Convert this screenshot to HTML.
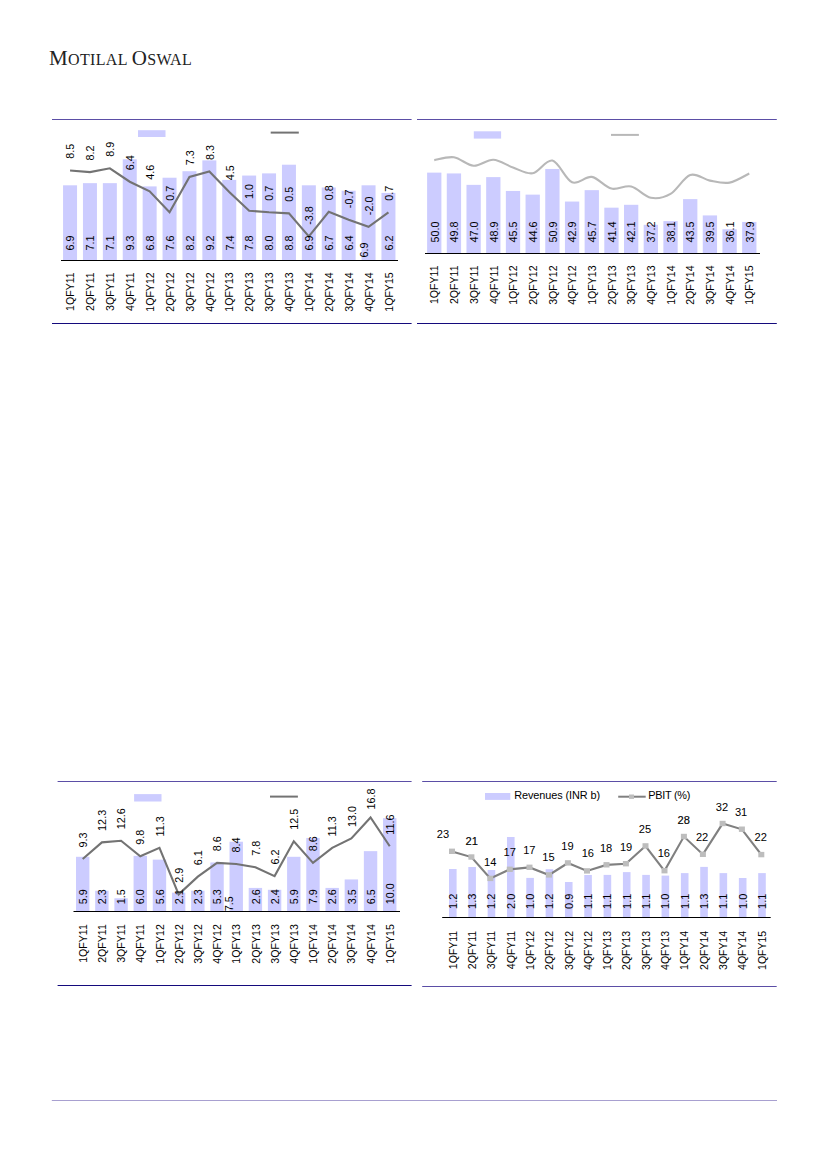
<!DOCTYPE html>
<html><head><meta charset="utf-8"><style>
html,body{margin:0;padding:0;background:#fff;}
body{width:827px;height:1169px;position:relative;overflow:hidden;font-family:"Liberation Sans", sans-serif;}
.logo{position:absolute;left:49px;top:48px;font-family:"Liberation Serif",serif;color:#222;white-space:nowrap;font-size:16px;letter-spacing:0.35px;line-height:1;}
.logo .c{font-size:21px;}
svg{position:absolute;left:0;top:0;}
svg text{font-family:"Liberation Sans", sans-serif;}
</style></head><body>
<div class="logo"><span class="c">M</span>OTILAL <span class="c">O</span>SWAL</div>
<svg width="827" height="1169" viewBox="0 0 827 1169">
<line x1="52" y1="119.5" x2="411.6" y2="119.5" stroke="#5b4ea6" stroke-width="1.0"/>
<line x1="52" y1="323.5" x2="411.6" y2="323.5" stroke="#140a7c" stroke-width="1.1"/>
<rect x="138" y="130.2" width="27.5" height="6.8" fill="#ccccff"/>
<line x1="270.7" y1="132.6" x2="298.8" y2="132.6" stroke="#737373" stroke-width="2"/>
<rect x="63.05" y="185.30" width="14" height="75.20" fill="#ccccff"/>
<rect x="82.95" y="183.14" width="14" height="77.36" fill="#ccccff"/>
<rect x="102.85" y="183.14" width="14" height="77.36" fill="#ccccff"/>
<rect x="122.75" y="159.29" width="14" height="101.21" fill="#ccccff"/>
<rect x="142.65" y="186.39" width="14" height="74.11" fill="#ccccff"/>
<rect x="162.55" y="177.72" width="14" height="82.78" fill="#ccccff"/>
<rect x="182.45" y="171.21" width="14" height="89.29" fill="#ccccff"/>
<rect x="202.35" y="160.37" width="14" height="100.13" fill="#ccccff"/>
<rect x="222.25" y="179.88" width="14" height="80.62" fill="#ccccff"/>
<rect x="242.15" y="175.55" width="14" height="84.95" fill="#ccccff"/>
<rect x="262.05" y="173.38" width="14" height="87.12" fill="#ccccff"/>
<rect x="281.95" y="164.71" width="14" height="95.79" fill="#ccccff"/>
<rect x="301.85" y="185.30" width="14" height="75.20" fill="#ccccff"/>
<rect x="321.75" y="187.47" width="14" height="73.03" fill="#ccccff"/>
<rect x="341.65" y="190.72" width="14" height="69.78" fill="#ccccff"/>
<rect x="361.55" y="185.30" width="14" height="75.20" fill="#ccccff"/>
<rect x="381.45" y="192.89" width="14" height="67.61" fill="#ccccff"/>
<line x1="61" y1="260.5" x2="398" y2="260.5" stroke="#000" stroke-width="1.0"/>
<polyline fill="none" stroke="#737373" stroke-width="2.1" points="70.05,170.47 89.95,172.08 109.85,168.32 129.75,181.73 149.65,191.39 169.55,212.31 189.45,176.90 209.35,171.54 229.25,191.92 249.15,210.70 269.05,212.31 288.95,213.38 308.85,236.44 328.75,211.77 348.65,219.81 368.55,226.79 388.45,212.31"/>
<text transform="translate(74.32,250.60) rotate(-90)" text-anchor="start" font-size="10.8" fill="#000">6.9</text>
<text transform="translate(74.32,158.87) rotate(-90)" text-anchor="start" font-size="10.8" fill="#000">8.5</text>
<text transform="translate(74.24,272.30) rotate(-90)" text-anchor="end" font-size="10.6" fill="#000">1QFY11</text>
<text transform="translate(94.22,250.60) rotate(-90)" text-anchor="start" font-size="10.8" fill="#000">7.1</text>
<text transform="translate(94.22,160.48) rotate(-90)" text-anchor="start" font-size="10.8" fill="#000">8.2</text>
<text transform="translate(94.14,272.30) rotate(-90)" text-anchor="end" font-size="10.6" fill="#000">2QFY11</text>
<text transform="translate(114.12,250.60) rotate(-90)" text-anchor="start" font-size="10.8" fill="#000">7.1</text>
<text transform="translate(114.12,156.72) rotate(-90)" text-anchor="start" font-size="10.8" fill="#000">8.9</text>
<text transform="translate(114.04,272.30) rotate(-90)" text-anchor="end" font-size="10.6" fill="#000">3QFY11</text>
<text transform="translate(134.02,250.60) rotate(-90)" text-anchor="start" font-size="10.8" fill="#000">9.3</text>
<text transform="translate(134.02,170.13) rotate(-90)" text-anchor="start" font-size="10.8" fill="#000">6.4</text>
<text transform="translate(133.94,272.30) rotate(-90)" text-anchor="end" font-size="10.6" fill="#000">4QFY11</text>
<text transform="translate(153.92,250.60) rotate(-90)" text-anchor="start" font-size="10.8" fill="#000">6.8</text>
<text transform="translate(153.92,179.79) rotate(-90)" text-anchor="start" font-size="10.8" fill="#000">4.6</text>
<text transform="translate(153.84,272.30) rotate(-90)" text-anchor="end" font-size="10.6" fill="#000">1QFY12</text>
<text transform="translate(173.82,250.60) rotate(-90)" text-anchor="start" font-size="10.8" fill="#000">7.6</text>
<text transform="translate(173.82,200.71) rotate(-90)" text-anchor="start" font-size="10.8" fill="#000">0.7</text>
<text transform="translate(173.74,272.30) rotate(-90)" text-anchor="end" font-size="10.6" fill="#000">2QFY12</text>
<text transform="translate(193.72,250.60) rotate(-90)" text-anchor="start" font-size="10.8" fill="#000">8.2</text>
<text transform="translate(193.72,165.30) rotate(-90)" text-anchor="start" font-size="10.8" fill="#000">7.3</text>
<text transform="translate(193.64,272.30) rotate(-90)" text-anchor="end" font-size="10.6" fill="#000">3QFY12</text>
<text transform="translate(213.62,250.60) rotate(-90)" text-anchor="start" font-size="10.8" fill="#000">9.2</text>
<text transform="translate(213.62,159.94) rotate(-90)" text-anchor="start" font-size="10.8" fill="#000">8.3</text>
<text transform="translate(213.54,272.30) rotate(-90)" text-anchor="end" font-size="10.6" fill="#000">4QFY12</text>
<text transform="translate(233.52,250.60) rotate(-90)" text-anchor="start" font-size="10.8" fill="#000">7.4</text>
<text transform="translate(233.52,180.32) rotate(-90)" text-anchor="start" font-size="10.8" fill="#000">4.5</text>
<text transform="translate(233.44,272.30) rotate(-90)" text-anchor="end" font-size="10.6" fill="#000">1QFY13</text>
<text transform="translate(253.42,250.60) rotate(-90)" text-anchor="start" font-size="10.8" fill="#000">7.8</text>
<text transform="translate(253.42,199.10) rotate(-90)" text-anchor="start" font-size="10.8" fill="#000">1.0</text>
<text transform="translate(253.34,272.30) rotate(-90)" text-anchor="end" font-size="10.6" fill="#000">2QFY13</text>
<text transform="translate(273.32,250.60) rotate(-90)" text-anchor="start" font-size="10.8" fill="#000">8.0</text>
<text transform="translate(273.32,200.71) rotate(-90)" text-anchor="start" font-size="10.8" fill="#000">0.7</text>
<text transform="translate(273.24,272.30) rotate(-90)" text-anchor="end" font-size="10.6" fill="#000">3QFY13</text>
<text transform="translate(293.22,250.60) rotate(-90)" text-anchor="start" font-size="10.8" fill="#000">8.8</text>
<text transform="translate(293.22,201.78) rotate(-90)" text-anchor="start" font-size="10.8" fill="#000">0.5</text>
<text transform="translate(293.14,272.30) rotate(-90)" text-anchor="end" font-size="10.6" fill="#000">4QFY13</text>
<text transform="translate(313.12,250.60) rotate(-90)" text-anchor="start" font-size="10.8" fill="#000">6.9</text>
<text transform="translate(313.12,224.84) rotate(-90)" text-anchor="start" font-size="10.8" fill="#000">-3.8</text>
<text transform="translate(313.04,272.30) rotate(-90)" text-anchor="end" font-size="10.6" fill="#000">1QFY14</text>
<text transform="translate(333.02,250.60) rotate(-90)" text-anchor="start" font-size="10.8" fill="#000">6.7</text>
<text transform="translate(333.02,200.17) rotate(-90)" text-anchor="start" font-size="10.8" fill="#000">0.8</text>
<text transform="translate(332.94,272.30) rotate(-90)" text-anchor="end" font-size="10.6" fill="#000">2QFY14</text>
<text transform="translate(352.92,250.60) rotate(-90)" text-anchor="start" font-size="10.8" fill="#000">6.4</text>
<text transform="translate(352.92,208.21) rotate(-90)" text-anchor="start" font-size="10.8" fill="#000">-0.7</text>
<text transform="translate(352.84,272.30) rotate(-90)" text-anchor="end" font-size="10.6" fill="#000">3QFY14</text>
<text transform="translate(367.52,257.50) rotate(-90)" text-anchor="start" font-size="10.8" fill="#000">6.9</text>
<text transform="translate(372.82,215.19) rotate(-90)" text-anchor="start" font-size="10.8" fill="#000">-2.0</text>
<text transform="translate(372.74,272.30) rotate(-90)" text-anchor="end" font-size="10.6" fill="#000">4QFY14</text>
<text transform="translate(392.72,250.60) rotate(-90)" text-anchor="start" font-size="10.8" fill="#000">6.2</text>
<text transform="translate(392.72,200.71) rotate(-90)" text-anchor="start" font-size="10.8" fill="#000">0.7</text>
<text transform="translate(392.64,272.30) rotate(-90)" text-anchor="end" font-size="10.6" fill="#000">1QFY15</text>
<line x1="417" y1="119.5" x2="776.8" y2="119.5" stroke="#5b4ea6" stroke-width="1.0"/>
<line x1="417" y1="323.5" x2="776.8" y2="323.5" stroke="#140a7c" stroke-width="1.1"/>
<rect x="473.8" y="131.3" width="27.3" height="7.3" fill="#ccccff"/>
<line x1="611" y1="134.9" x2="638.9" y2="134.9" stroke="#b8b8b8" stroke-width="2"/>
<rect x="427.10" y="172.63" width="14.3" height="80.87" fill="#ccccff"/>
<rect x="446.79" y="173.44" width="14.3" height="80.06" fill="#ccccff"/>
<rect x="466.48" y="184.85" width="14.3" height="68.65" fill="#ccccff"/>
<rect x="486.17" y="177.11" width="14.3" height="76.39" fill="#ccccff"/>
<rect x="505.86" y="190.96" width="14.3" height="62.54" fill="#ccccff"/>
<rect x="525.55" y="194.63" width="14.3" height="58.87" fill="#ccccff"/>
<rect x="545.24" y="168.96" width="14.3" height="84.54" fill="#ccccff"/>
<rect x="564.93" y="201.56" width="14.3" height="51.94" fill="#ccccff"/>
<rect x="584.62" y="190.15" width="14.3" height="63.35" fill="#ccccff"/>
<rect x="604.31" y="207.67" width="14.3" height="45.83" fill="#ccccff"/>
<rect x="624.00" y="204.81" width="14.3" height="48.69" fill="#ccccff"/>
<rect x="643.69" y="224.78" width="14.3" height="28.72" fill="#ccccff"/>
<rect x="663.38" y="221.11" width="14.3" height="32.39" fill="#ccccff"/>
<rect x="683.07" y="199.11" width="14.3" height="54.39" fill="#ccccff"/>
<rect x="702.76" y="215.41" width="14.3" height="38.09" fill="#ccccff"/>
<rect x="722.45" y="229.26" width="14.3" height="24.24" fill="#ccccff"/>
<rect x="742.14" y="221.93" width="14.3" height="31.57" fill="#ccccff"/>
<line x1="425" y1="253.5" x2="760" y2="253.5" stroke="#000" stroke-width="1.0"/>
<path fill="none" stroke="#b8b8b8" stroke-width="2.1" d="M434.25,160.10 C437.53,159.63 447.38,156.35 453.94,157.30 C460.50,158.25 467.07,165.38 473.63,165.80 C480.19,166.22 486.76,159.52 493.32,159.80 C499.88,160.08 506.45,165.27 513.01,167.50 C519.57,169.73 526.14,174.35 532.70,173.20 C539.26,172.05 545.83,159.08 552.39,160.60 C558.95,162.12 565.52,179.58 572.08,182.30 C578.64,185.02 585.21,175.85 591.77,176.90 C598.33,177.95 604.90,187.02 611.46,188.60 C618.02,190.18 624.59,184.87 631.15,186.40 C637.71,187.93 644.28,196.55 650.84,197.80 C657.40,199.05 663.97,197.70 670.53,193.90 C677.09,190.10 683.66,177.22 690.22,175.00 C696.78,172.78 703.35,179.33 709.91,180.60 C716.47,181.87 723.04,183.78 729.60,182.60 C736.16,181.42 746.01,175.02 749.29,173.50"/>
<text transform="translate(438.52,242.40) rotate(-90)" text-anchor="start" font-size="10.8" fill="#000">50.0</text>
<text transform="translate(438.44,265.40) rotate(-90)" text-anchor="end" font-size="10.6" fill="#000">1QFY11</text>
<text transform="translate(458.21,242.40) rotate(-90)" text-anchor="start" font-size="10.8" fill="#000">49.8</text>
<text transform="translate(458.13,265.40) rotate(-90)" text-anchor="end" font-size="10.6" fill="#000">2QFY11</text>
<text transform="translate(477.90,242.40) rotate(-90)" text-anchor="start" font-size="10.8" fill="#000">47.0</text>
<text transform="translate(477.82,265.40) rotate(-90)" text-anchor="end" font-size="10.6" fill="#000">3QFY11</text>
<text transform="translate(497.59,242.40) rotate(-90)" text-anchor="start" font-size="10.8" fill="#000">48.9</text>
<text transform="translate(497.51,265.40) rotate(-90)" text-anchor="end" font-size="10.6" fill="#000">4QFY11</text>
<text transform="translate(517.28,242.40) rotate(-90)" text-anchor="start" font-size="10.8" fill="#000">45.5</text>
<text transform="translate(517.20,265.40) rotate(-90)" text-anchor="end" font-size="10.6" fill="#000">1QFY12</text>
<text transform="translate(536.97,242.40) rotate(-90)" text-anchor="start" font-size="10.8" fill="#000">44.6</text>
<text transform="translate(536.89,265.40) rotate(-90)" text-anchor="end" font-size="10.6" fill="#000">2QFY12</text>
<text transform="translate(556.66,242.40) rotate(-90)" text-anchor="start" font-size="10.8" fill="#000">50.9</text>
<text transform="translate(556.58,265.40) rotate(-90)" text-anchor="end" font-size="10.6" fill="#000">3QFY12</text>
<text transform="translate(576.35,242.40) rotate(-90)" text-anchor="start" font-size="10.8" fill="#000">42.9</text>
<text transform="translate(576.27,265.40) rotate(-90)" text-anchor="end" font-size="10.6" fill="#000">4QFY12</text>
<text transform="translate(596.04,242.40) rotate(-90)" text-anchor="start" font-size="10.8" fill="#000">45.7</text>
<text transform="translate(595.96,265.40) rotate(-90)" text-anchor="end" font-size="10.6" fill="#000">1QFY13</text>
<text transform="translate(615.73,242.40) rotate(-90)" text-anchor="start" font-size="10.8" fill="#000">41.4</text>
<text transform="translate(615.65,265.40) rotate(-90)" text-anchor="end" font-size="10.6" fill="#000">2QFY13</text>
<text transform="translate(635.42,242.40) rotate(-90)" text-anchor="start" font-size="10.8" fill="#000">42.1</text>
<text transform="translate(635.34,265.40) rotate(-90)" text-anchor="end" font-size="10.6" fill="#000">3QFY13</text>
<text transform="translate(655.11,242.40) rotate(-90)" text-anchor="start" font-size="10.8" fill="#000">37.2</text>
<text transform="translate(655.03,265.40) rotate(-90)" text-anchor="end" font-size="10.6" fill="#000">4QFY13</text>
<text transform="translate(674.80,242.40) rotate(-90)" text-anchor="start" font-size="10.8" fill="#000">38.1</text>
<text transform="translate(674.72,265.40) rotate(-90)" text-anchor="end" font-size="10.6" fill="#000">1QFY14</text>
<text transform="translate(694.49,242.40) rotate(-90)" text-anchor="start" font-size="10.8" fill="#000">43.5</text>
<text transform="translate(694.41,265.40) rotate(-90)" text-anchor="end" font-size="10.6" fill="#000">2QFY14</text>
<text transform="translate(714.18,242.40) rotate(-90)" text-anchor="start" font-size="10.8" fill="#000">39.5</text>
<text transform="translate(714.10,265.40) rotate(-90)" text-anchor="end" font-size="10.6" fill="#000">3QFY14</text>
<text transform="translate(733.87,242.40) rotate(-90)" text-anchor="start" font-size="10.8" fill="#000">36.1</text>
<text transform="translate(733.79,265.40) rotate(-90)" text-anchor="end" font-size="10.6" fill="#000">4QFY14</text>
<text transform="translate(753.56,242.40) rotate(-90)" text-anchor="start" font-size="10.8" fill="#000">37.9</text>
<text transform="translate(753.48,265.40) rotate(-90)" text-anchor="end" font-size="10.6" fill="#000">1QFY15</text>
<line x1="57.6" y1="781.5" x2="411.6" y2="781.5" stroke="#5b4ea6" stroke-width="1.0"/>
<line x1="57.6" y1="985.5" x2="411.6" y2="985.5" stroke="#140a7c" stroke-width="1.1"/>
<rect x="134.1" y="794.1" width="27.4" height="7.4" fill="#ccccff"/>
<line x1="270" y1="796.6" x2="297.9" y2="796.6" stroke="#737373" stroke-width="2"/>
<rect x="76.00" y="856.80" width="13.4" height="54.70" fill="#ccccff"/>
<rect x="95.19" y="890.75" width="13.4" height="20.75" fill="#ccccff"/>
<rect x="114.38" y="898.30" width="13.4" height="13.20" fill="#ccccff"/>
<rect x="133.57" y="855.86" width="13.4" height="55.64" fill="#ccccff"/>
<rect x="152.76" y="859.63" width="13.4" height="51.87" fill="#ccccff"/>
<rect x="171.95" y="892.64" width="13.4" height="18.86" fill="#ccccff"/>
<rect x="191.14" y="890.75" width="13.4" height="20.75" fill="#ccccff"/>
<rect x="210.33" y="862.46" width="13.4" height="49.04" fill="#ccccff"/>
<rect x="229.52" y="841.72" width="13.4" height="69.78" fill="#ccccff"/>
<rect x="248.71" y="887.92" width="13.4" height="23.58" fill="#ccccff"/>
<rect x="267.90" y="889.81" width="13.4" height="21.69" fill="#ccccff"/>
<rect x="287.09" y="856.80" width="13.4" height="54.70" fill="#ccccff"/>
<rect x="306.28" y="837.94" width="13.4" height="73.56" fill="#ccccff"/>
<rect x="325.47" y="887.92" width="13.4" height="23.58" fill="#ccccff"/>
<rect x="344.66" y="879.44" width="13.4" height="32.06" fill="#ccccff"/>
<rect x="363.85" y="851.15" width="13.4" height="60.35" fill="#ccccff"/>
<rect x="383.04" y="818.14" width="13.4" height="93.36" fill="#ccccff"/>
<line x1="73.5" y1="911.5" x2="400" y2="911.5" stroke="#000" stroke-width="1.0"/>
<polyline fill="none" stroke="#737373" stroke-width="2.1" points="82.70,858.97 101.89,842.38 121.08,840.72 140.27,856.21 159.46,847.91 178.65,894.36 197.84,876.67 217.03,862.84 236.22,863.95 255.41,867.27 274.60,876.11 293.79,841.27 312.98,862.84 332.17,847.91 351.36,838.51 370.55,817.50 389.74,846.25"/>
<text transform="translate(86.87,904.20) rotate(-90)" text-anchor="start" font-size="10.8" fill="#000">5.9</text>
<text transform="translate(86.87,847.47) rotate(-90)" text-anchor="start" font-size="10.8" fill="#000">9.3</text>
<text transform="translate(86.79,924.20) rotate(-90)" text-anchor="end" font-size="10.6" fill="#000">1QFY11</text>
<text transform="translate(106.06,904.20) rotate(-90)" text-anchor="start" font-size="10.8" fill="#000">2.3</text>
<text transform="translate(106.06,830.88) rotate(-90)" text-anchor="start" font-size="10.8" fill="#000">12.3</text>
<text transform="translate(105.98,924.20) rotate(-90)" text-anchor="end" font-size="10.6" fill="#000">2QFY11</text>
<text transform="translate(125.25,904.20) rotate(-90)" text-anchor="start" font-size="10.8" fill="#000">1.5</text>
<text transform="translate(125.25,829.22) rotate(-90)" text-anchor="start" font-size="10.8" fill="#000">12.6</text>
<text transform="translate(125.17,924.20) rotate(-90)" text-anchor="end" font-size="10.6" fill="#000">3QFY11</text>
<text transform="translate(144.44,904.20) rotate(-90)" text-anchor="start" font-size="10.8" fill="#000">6.0</text>
<text transform="translate(144.44,844.71) rotate(-90)" text-anchor="start" font-size="10.8" fill="#000">9.8</text>
<text transform="translate(144.36,924.20) rotate(-90)" text-anchor="end" font-size="10.6" fill="#000">4QFY11</text>
<text transform="translate(163.63,904.20) rotate(-90)" text-anchor="start" font-size="10.8" fill="#000">5.6</text>
<text transform="translate(163.63,836.41) rotate(-90)" text-anchor="start" font-size="10.8" fill="#000">11.3</text>
<text transform="translate(163.55,924.20) rotate(-90)" text-anchor="end" font-size="10.6" fill="#000">1QFY12</text>
<text transform="translate(182.82,904.20) rotate(-90)" text-anchor="start" font-size="10.8" fill="#000">2.1</text>
<text transform="translate(182.82,882.86) rotate(-90)" text-anchor="start" font-size="10.8" fill="#000">2.9</text>
<text transform="translate(182.74,924.20) rotate(-90)" text-anchor="end" font-size="10.6" fill="#000">2QFY12</text>
<text transform="translate(202.01,904.20) rotate(-90)" text-anchor="start" font-size="10.8" fill="#000">2.3</text>
<text transform="translate(202.01,865.17) rotate(-90)" text-anchor="start" font-size="10.8" fill="#000">6.1</text>
<text transform="translate(201.93,924.20) rotate(-90)" text-anchor="end" font-size="10.6" fill="#000">3QFY12</text>
<text transform="translate(221.20,904.20) rotate(-90)" text-anchor="start" font-size="10.8" fill="#000">5.3</text>
<text transform="translate(221.20,851.34) rotate(-90)" text-anchor="start" font-size="10.8" fill="#000">8.6</text>
<text transform="translate(221.12,924.20) rotate(-90)" text-anchor="end" font-size="10.6" fill="#000">4QFY12</text>
<text transform="translate(232.89,911.30) rotate(-90)" text-anchor="start" font-size="10.8" fill="#000">7.5</text>
<text transform="translate(240.39,852.45) rotate(-90)" text-anchor="start" font-size="10.8" fill="#000">8.4</text>
<text transform="translate(240.31,924.20) rotate(-90)" text-anchor="end" font-size="10.6" fill="#000">1QFY13</text>
<text transform="translate(259.58,904.20) rotate(-90)" text-anchor="start" font-size="10.8" fill="#000">2.6</text>
<text transform="translate(259.58,855.77) rotate(-90)" text-anchor="start" font-size="10.8" fill="#000">7.8</text>
<text transform="translate(259.50,924.20) rotate(-90)" text-anchor="end" font-size="10.6" fill="#000">2QFY13</text>
<text transform="translate(278.77,904.20) rotate(-90)" text-anchor="start" font-size="10.8" fill="#000">2.4</text>
<text transform="translate(278.77,864.61) rotate(-90)" text-anchor="start" font-size="10.8" fill="#000">6.2</text>
<text transform="translate(278.69,924.20) rotate(-90)" text-anchor="end" font-size="10.6" fill="#000">3QFY13</text>
<text transform="translate(297.96,904.20) rotate(-90)" text-anchor="start" font-size="10.8" fill="#000">5.9</text>
<text transform="translate(297.96,829.77) rotate(-90)" text-anchor="start" font-size="10.8" fill="#000">12.5</text>
<text transform="translate(297.88,924.20) rotate(-90)" text-anchor="end" font-size="10.6" fill="#000">4QFY13</text>
<text transform="translate(317.15,904.20) rotate(-90)" text-anchor="start" font-size="10.8" fill="#000">7.9</text>
<text transform="translate(317.15,851.34) rotate(-90)" text-anchor="start" font-size="10.8" fill="#000">8.6</text>
<text transform="translate(317.07,924.20) rotate(-90)" text-anchor="end" font-size="10.6" fill="#000">1QFY14</text>
<text transform="translate(336.34,904.20) rotate(-90)" text-anchor="start" font-size="10.8" fill="#000">2.6</text>
<text transform="translate(336.34,836.41) rotate(-90)" text-anchor="start" font-size="10.8" fill="#000">11.3</text>
<text transform="translate(336.26,924.20) rotate(-90)" text-anchor="end" font-size="10.6" fill="#000">2QFY14</text>
<text transform="translate(355.53,904.20) rotate(-90)" text-anchor="start" font-size="10.8" fill="#000">3.5</text>
<text transform="translate(355.53,827.01) rotate(-90)" text-anchor="start" font-size="10.8" fill="#000">13.0</text>
<text transform="translate(355.45,924.20) rotate(-90)" text-anchor="end" font-size="10.6" fill="#000">3QFY14</text>
<text transform="translate(374.72,904.20) rotate(-90)" text-anchor="start" font-size="10.8" fill="#000">6.5</text>
<text transform="translate(374.72,809.50) rotate(-90)" text-anchor="start" font-size="10.8" fill="#000">16.8</text>
<text transform="translate(374.64,924.20) rotate(-90)" text-anchor="end" font-size="10.6" fill="#000">4QFY14</text>
<text transform="translate(393.91,904.20) rotate(-90)" text-anchor="start" font-size="10.8" fill="#000">10.0</text>
<text transform="translate(393.91,834.75) rotate(-90)" text-anchor="start" font-size="10.8" fill="#000">11.6</text>
<text transform="translate(393.83,924.20) rotate(-90)" text-anchor="end" font-size="10.6" fill="#000">1QFY15</text>
<line x1="422.2" y1="781.5" x2="776.7" y2="781.5" stroke="#5b4ea6" stroke-width="1.0"/>
<line x1="422.2" y1="986.5" x2="776.7" y2="986.5" stroke="#5b4ea6" stroke-width="1.0"/>
<rect x="485" y="793" width="25.3" height="6.9" fill="#ccccff"/>
<text x="514.2" y="799.3" font-size="10.9" fill="#000" textLength="86">Revenues (INR b)</text>
<line x1="618.2" y1="796.7" x2="645.7" y2="796.7" stroke="#808080" stroke-width="2"/>
<rect x="629" y="794.5" width="5" height="4.4" fill="#bdbdbd"/>
<text x="648.3" y="799.2" font-size="10.9" fill="#000" textLength="42">PBIT (%)</text>
<rect x="449.00" y="869.00" width="7.6" height="48.50" fill="#ccccff"/>
<rect x="468.32" y="867.00" width="7.6" height="50.50" fill="#ccccff"/>
<rect x="487.65" y="870.00" width="7.6" height="47.50" fill="#ccccff"/>
<rect x="506.98" y="837.00" width="7.6" height="80.50" fill="#ccccff"/>
<rect x="526.30" y="877.90" width="7.6" height="39.60" fill="#ccccff"/>
<rect x="545.62" y="869.20" width="7.6" height="48.30" fill="#ccccff"/>
<rect x="564.95" y="882.00" width="7.6" height="35.50" fill="#ccccff"/>
<rect x="584.27" y="875.00" width="7.6" height="42.50" fill="#ccccff"/>
<rect x="603.60" y="874.90" width="7.6" height="42.60" fill="#ccccff"/>
<rect x="622.92" y="872.10" width="7.6" height="45.40" fill="#ccccff"/>
<rect x="642.25" y="874.90" width="7.6" height="42.60" fill="#ccccff"/>
<rect x="661.58" y="875.60" width="7.6" height="41.90" fill="#ccccff"/>
<rect x="680.90" y="873.10" width="7.6" height="44.40" fill="#ccccff"/>
<rect x="700.23" y="866.90" width="7.6" height="50.60" fill="#ccccff"/>
<rect x="719.55" y="873.10" width="7.6" height="44.40" fill="#ccccff"/>
<rect x="738.88" y="878.00" width="7.6" height="39.50" fill="#ccccff"/>
<rect x="758.20" y="873.10" width="7.6" height="44.40" fill="#ccccff"/>
<line x1="442.2" y1="917.5" x2="770.7" y2="917.5" stroke="#000" stroke-width="1.0"/>
<polyline fill="none" stroke="#808080" stroke-width="2.1" points="452.00,851.40 471.40,857.10 490.30,878.50 509.80,869.40 529.50,867.40 549.00,875.00 567.90,863.00 587.00,871.00 606.50,864.90 625.90,863.80 645.50,846.00 664.50,870.80 683.90,836.60 702.90,854.40 722.60,823.60 741.90,829.30 761.30,854.70"/>
<rect x="449.00" y="848.60" width="6" height="5.4" fill="#bdbdbd"/>
<rect x="468.40" y="854.30" width="6" height="5.4" fill="#bdbdbd"/>
<rect x="487.30" y="875.70" width="6" height="5.4" fill="#bdbdbd"/>
<rect x="506.80" y="866.60" width="6" height="5.4" fill="#bdbdbd"/>
<rect x="526.50" y="864.60" width="6" height="5.4" fill="#bdbdbd"/>
<rect x="546.00" y="872.20" width="6" height="5.4" fill="#bdbdbd"/>
<rect x="564.90" y="860.20" width="6" height="5.4" fill="#bdbdbd"/>
<rect x="584.00" y="868.20" width="6" height="5.4" fill="#bdbdbd"/>
<rect x="603.50" y="862.10" width="6" height="5.4" fill="#bdbdbd"/>
<rect x="622.90" y="861.00" width="6" height="5.4" fill="#bdbdbd"/>
<rect x="642.50" y="843.20" width="6" height="5.4" fill="#bdbdbd"/>
<rect x="661.50" y="868.00" width="6" height="5.4" fill="#bdbdbd"/>
<rect x="680.90" y="833.80" width="6" height="5.4" fill="#bdbdbd"/>
<rect x="699.90" y="851.60" width="6" height="5.4" fill="#bdbdbd"/>
<rect x="719.60" y="820.80" width="6" height="5.4" fill="#bdbdbd"/>
<rect x="738.90" y="826.50" width="6" height="5.4" fill="#bdbdbd"/>
<rect x="758.30" y="851.90" width="6" height="5.4" fill="#bdbdbd"/>
<text transform="translate(456.74,908.90) rotate(-90)" text-anchor="start" font-size="11" fill="#000">1.2</text>
<text transform="translate(456.56,930.80) rotate(-90)" text-anchor="end" font-size="10.5" fill="#000">1QFY11</text>
<text x="442.90" y="838.10" text-anchor="middle" font-size="11.1" fill="#000">23</text>
<text transform="translate(476.06,908.90) rotate(-90)" text-anchor="start" font-size="11" fill="#000">1.3</text>
<text transform="translate(475.88,930.80) rotate(-90)" text-anchor="end" font-size="10.5" fill="#000">2QFY11</text>
<text x="471.65" y="844.70" text-anchor="middle" font-size="11.1" fill="#000" stroke="#000" stroke-width="0.15">21</text>
<text transform="translate(495.39,908.90) rotate(-90)" text-anchor="start" font-size="11" fill="#000">1.2</text>
<text transform="translate(495.21,930.80) rotate(-90)" text-anchor="end" font-size="10.5" fill="#000">3QFY11</text>
<text x="490.25" y="865.80" text-anchor="middle" font-size="11.1" fill="#000">14</text>
<text transform="translate(514.71,908.90) rotate(-90)" text-anchor="start" font-size="11" fill="#000">2.0</text>
<text transform="translate(514.53,930.80) rotate(-90)" text-anchor="end" font-size="10.5" fill="#000">4QFY11</text>
<text x="509.65" y="856.10" text-anchor="middle" font-size="11.1" fill="#000">17</text>
<text transform="translate(534.04,908.90) rotate(-90)" text-anchor="start" font-size="11" fill="#000">1.0</text>
<text transform="translate(533.86,930.80) rotate(-90)" text-anchor="end" font-size="10.5" fill="#000">1QFY12</text>
<text x="529.35" y="854.00" text-anchor="middle" font-size="11.1" fill="#000">17</text>
<text transform="translate(553.36,908.90) rotate(-90)" text-anchor="start" font-size="11" fill="#000">1.2</text>
<text transform="translate(553.18,930.80) rotate(-90)" text-anchor="end" font-size="10.5" fill="#000">2QFY12</text>
<text x="548.50" y="861.10" text-anchor="middle" font-size="11.1" fill="#000">15</text>
<text transform="translate(572.69,908.90) rotate(-90)" text-anchor="start" font-size="11" fill="#000">0.9</text>
<text transform="translate(572.51,930.80) rotate(-90)" text-anchor="end" font-size="10.5" fill="#000">3QFY12</text>
<text x="567.50" y="849.70" text-anchor="middle" font-size="11.1" fill="#000">19</text>
<text transform="translate(592.01,908.90) rotate(-90)" text-anchor="start" font-size="11" fill="#000">1.1</text>
<text transform="translate(591.83,930.80) rotate(-90)" text-anchor="end" font-size="10.5" fill="#000">4QFY12</text>
<text x="587.80" y="856.90" text-anchor="middle" font-size="11.1" fill="#000">16</text>
<text transform="translate(611.34,908.90) rotate(-90)" text-anchor="start" font-size="11" fill="#000">1.1</text>
<text transform="translate(611.16,930.80) rotate(-90)" text-anchor="end" font-size="10.5" fill="#000">1QFY13</text>
<text x="606.10" y="851.90" text-anchor="middle" font-size="11.1" fill="#000">18</text>
<text transform="translate(630.66,908.90) rotate(-90)" text-anchor="start" font-size="11" fill="#000">1.1</text>
<text transform="translate(630.48,930.80) rotate(-90)" text-anchor="end" font-size="10.5" fill="#000">2QFY13</text>
<text x="626.05" y="850.70" text-anchor="middle" font-size="11.1" fill="#000">19</text>
<text transform="translate(649.99,908.90) rotate(-90)" text-anchor="start" font-size="11" fill="#000">1.1</text>
<text transform="translate(649.81,930.80) rotate(-90)" text-anchor="end" font-size="10.5" fill="#000">3QFY13</text>
<text x="645.00" y="833.00" text-anchor="middle" font-size="11.1" fill="#000">25</text>
<text transform="translate(669.31,908.90) rotate(-90)" text-anchor="start" font-size="11" fill="#000">1.0</text>
<text transform="translate(669.13,930.80) rotate(-90)" text-anchor="end" font-size="10.5" fill="#000">4QFY13</text>
<text x="663.80" y="856.80" text-anchor="middle" font-size="11.1" fill="#000">16</text>
<text transform="translate(688.64,908.90) rotate(-90)" text-anchor="start" font-size="11" fill="#000">1.1</text>
<text transform="translate(688.46,930.80) rotate(-90)" text-anchor="end" font-size="10.5" fill="#000">1QFY14</text>
<text x="683.75" y="823.60" text-anchor="middle" font-size="11.1" fill="#000" stroke="#000" stroke-width="0.15">28</text>
<text transform="translate(707.96,908.90) rotate(-90)" text-anchor="start" font-size="11" fill="#000">1.3</text>
<text transform="translate(707.78,930.80) rotate(-90)" text-anchor="end" font-size="10.5" fill="#000">2QFY14</text>
<text x="702.05" y="840.90" text-anchor="middle" font-size="11.1" fill="#000">22</text>
<text transform="translate(727.29,908.90) rotate(-90)" text-anchor="start" font-size="11" fill="#000">1.1</text>
<text transform="translate(727.11,930.80) rotate(-90)" text-anchor="end" font-size="10.5" fill="#000">3QFY14</text>
<text x="722.00" y="810.60" text-anchor="middle" font-size="11.1" fill="#000">32</text>
<text transform="translate(746.61,908.90) rotate(-90)" text-anchor="start" font-size="11" fill="#000">1.0</text>
<text transform="translate(746.43,930.80) rotate(-90)" text-anchor="end" font-size="10.5" fill="#000">4QFY14</text>
<text x="741.05" y="816.00" text-anchor="middle" font-size="11.1" fill="#000">31</text>
<text transform="translate(765.94,908.90) rotate(-90)" text-anchor="start" font-size="11" fill="#000">1.1</text>
<text transform="translate(765.76,930.80) rotate(-90)" text-anchor="end" font-size="10.5" fill="#000">1QFY15</text>
<text x="760.65" y="840.90" text-anchor="middle" font-size="11.1" fill="#000">22</text>
<line x1="51.8" y1="1100.5" x2="777" y2="1100.5" stroke="#a8a0d0" stroke-width="1.0"/>
</svg>
</body></html>
